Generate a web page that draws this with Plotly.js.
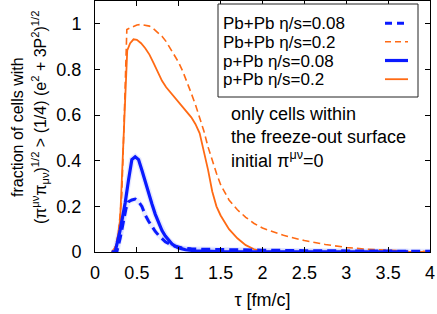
<!DOCTYPE html>
<html>
<head>
<meta charset="utf-8">
<script src="https://cdn.plot.ly/plotly-3.0.1.min.js"></script>
<style>html,body{margin:0;padding:0;background:#fff;}#chart{width:437px;height:314px;}</style>
</head>
<body>
<div id="chart"></div>
<script>
// ---- data ----
const seriesNames = ["Pb+Pb η/s=0.08", "Pb+Pb η/s=0.2", "p+Pb η/s=0.08", "p+Pb η/s=0.2"];

const tauPbPb008 = [0.2, 0.26, 0.3, 0.34, 0.37, 0.4, 0.44, 0.48, 0.52, 0.56, 0.6, 0.64, 0.68, 0.72, 0.76, 0.8, 0.84, 0.9, 0.96, 1.04, 1.15, 1.3, 1.5, 1.75, 2.0, 2.5, 3.0, 3.5, 4.0];
const fracPbPb008 = [0, 0, 0.06, 0.14, 0.19, 0.22, 0.228, 0.232, 0.22, 0.2, 0.162, 0.135, 0.11, 0.09, 0.073, 0.058, 0.045, 0.033, 0.025, 0.018, 0.014, 0.012, 0.01, 0.009, 0.008, 0.006, 0.005, 0.004, 0.003];

const tauPbPb02 = [0.2, 0.24, 0.28, 0.32, 0.35, 0.38, 0.42, 0.46, 0.5, 0.55, 0.6, 0.65, 0.7, 0.75, 0.8, 0.85, 0.9, 0.95, 1.0, 1.05, 1.1, 1.15, 1.2, 1.25, 1.3, 1.35, 1.4, 1.45, 1.5, 1.55, 1.6, 1.7, 1.8, 1.9, 2.0, 2.25, 2.5, 2.75, 3.0, 3.25, 3.5, 3.75, 4.0];
const fracPbPb02 = [0, 0.02, 0.08, 0.25, 0.6, 0.975, 0.982, 0.99, 0.995, 0.997, 0.995, 0.99, 0.978, 0.963, 0.945, 0.922, 0.893, 0.862, 0.83, 0.79, 0.745, 0.695, 0.645, 0.59, 0.53, 0.46, 0.4, 0.345, 0.295, 0.258, 0.228, 0.185, 0.152, 0.125, 0.105, 0.073, 0.05, 0.033, 0.02, 0.012, 0.007, 0.004, 0.002];

const tauPPb008 = [0.2, 0.24, 0.3, 0.36, 0.4, 0.44, 0.48, 0.52, 0.56, 0.6, 0.64, 0.68, 0.72, 0.76, 0.8, 0.84, 0.88, 0.92, 0.96, 1.0, 1.08, 1.2, 1.5, 2.0, 3.0, 3.74];
const fracPPb008 = [0, 0, 0.096, 0.215, 0.315, 0.405, 0.417, 0.405, 0.358, 0.305, 0.258, 0.21, 0.165, 0.13, 0.094, 0.07, 0.05, 0.035, 0.025, 0.018, 0.01, 0.005, 0.002, 0.001, 0.001, 0.001];

const tauPPb02 = [0.2, 0.22, 0.26, 0.3, 0.35, 0.385, 0.42, 0.46, 0.5, 0.55, 0.6, 0.65, 0.7, 0.75, 0.8, 0.85, 0.9, 0.95, 1.0, 1.05, 1.1, 1.15, 1.2, 1.25, 1.3, 1.35, 1.4, 1.45, 1.5, 1.6, 1.7, 1.8, 1.9, 2.0, 2.2, 3.0, 4.0];
const fracPPb02 = [0, 0, 0.038, 0.14, 0.577, 0.883, 0.915, 0.932, 0.93, 0.915, 0.893, 0.865, 0.828, 0.787, 0.75, 0.722, 0.7, 0.678, 0.657, 0.635, 0.612, 0.59, 0.56, 0.52, 0.44, 0.36, 0.265, 0.2, 0.16, 0.1, 0.06, 0.03, 0.012, 0.003, 0.001, 0.0005, 0];

const xTicks = [0, 0.5, 1, 1.5, 2, 2.5, 3, 3.5, 4];
const xTickText = ["0", "0.5", "1", "1.5", "2", "2.5", "3", "3.5", "4"];
const yTicks = [0, 0.2, 0.4, 0.6, 0.8, 1];
const yTickText = ["0", "0.2", "0.4", "0.6", "0.8", "1"];

// ---- styles ----
const BLUE = "#0a1aff";
const ORANGE = "#ff6a14";
const FONT = "Liberation Sans, Arial, Helvetica, sans-serif";

const traces = [
  {x: tauPbPb008, y: fracPbPb008, mode: "lines", line: {color: "rgba(110,130,255,0.15)", width: 5}, hoverinfo: "skip", showlegend: false},
  {x: tauPPb008, y: fracPPb008, mode: "lines", line: {color: "rgba(110,130,255,0.18)", width: 6}, hoverinfo: "skip", showlegend: false},
  {x: tauPbPb02, y: fracPbPb02, name: seriesNames[1], mode: "lines", line: {color: ORANGE, width: 1.6, dash: "7px,4px"}},
  {x: tauPPb02, y: fracPPb02, name: seriesNames[3], mode: "lines", line: {color: ORANGE, width: 1.8}},
  {x: tauPbPb008, y: fracPbPb008, name: seriesNames[0], mode: "lines", line: {color: BLUE, width: 3, dash: "9px,5px"}},
  {x: tauPPb008, y: fracPPb008, name: seriesNames[2], mode: "lines", line: {color: BLUE, width: 3.2}}
];

// plot area in pixels: left 95, right 430, top 1, bottom 252
const L = 95, R = 430, T = 1, B = 252;
const px = v => (v - L) / (R - L);
const py = v => (B - v) / (B - T);

// legend (drawn as layout decorations)
const legRows = [23.2, 41.8, 60.5, 79.2];
const legStyles = [
  {color: BLUE, width: 3, dash: "7px,5px"},
  {color: ORANGE, width: 1.6, dash: "6px,4px"},
  {color: BLUE, width: 3.2, dash: "solid"},
  {color: ORANGE, width: 1.8, dash: "solid"}
];
const shapes = [
  {type: "rect", xref: "paper", yref: "paper", x0: px(218), x1: px(418), y0: py(97), y1: py(4),
   line: {color: "#222", width: 1}, fillcolor: "rgba(255,255,255,1)", layer: "above"}
];
const annotations = [];
legRows.forEach((r, i) => {
  shapes.push({type: "line", xref: "paper", yref: "paper", x0: px(385), x1: px(408), y0: py(r), y1: py(r),
    line: legStyles[i], layer: "above"});
  annotations.push({xref: "paper", yref: "paper", x: px(222), y: py(r + 0.5), xanchor: "left", yanchor: "middle",
    text: seriesNames[i], showarrow: false, borderpad: 0, font: {family: FONT, size: 17, color: "#000"}});
});

annotations.push({xref: "paper", yref: "paper", x: px(229), y: py(137), xanchor: "left", yanchor: "middle", align: "left",
  text: "only cells within<br>the freeze-out surface<br>initial π<sup>μν</sup>=0", showarrow: false,
  font: {family: FONT, size: 18, color: "#000"}});

// y-axis title (two lines, rotated)
annotations.push({xref: "paper", yref: "paper", x: px(17), y: py(127), xanchor: "center", yanchor: "middle", textangle: -90,
  text: "fraction of cells with", showarrow: false, font: {family: FONT, size: 16, color: "#000"}});
annotations.push({xref: "paper", yref: "paper", x: px(40), y: py(118), xanchor: "center", yanchor: "middle", textangle: -90,
  text: "(π<sup>μν</sup>π<sub>μν</sub>)<sup>1/2</sup> &gt; (1/4) (e<sup>2</sup> + 3P<sup>2</sup>)<sup>1/2</sup>", showarrow: false,
  font: {family: FONT, size: 16, color: "#000"}});

const layout = {
  width: 437, height: 314,
  margin: {l: L, r: 437 - R, t: T, b: 314 - B, pad: 0},
  paper_bgcolor: "#fff", plot_bgcolor: "#fff",
  showlegend: false,
  font: {family: FONT, size: 18, color: "#000"},
  xaxis: {
    range: [0, 4], tickmode: "array", tickvals: xTicks, ticktext: xTickText,
    ticks: "inside", ticklen: 5, tickcolor: "#000", tickwidth: 1,
    showline: true, linecolor: "#000", linewidth: 1, mirror: "allticks",
    showgrid: false, zeroline: false, ticklabelstandoff: 4,
    tickfont: {family: FONT, size: 18},
    title: {text: "τ [fm/c]", font: {family: FONT, size: 18}, standoff: 11}
  },
  yaxis: {
    range: [0, 1.1], tickmode: "array", tickvals: yTicks, ticktext: yTickText,
    ticks: "inside", ticklen: 5, tickcolor: "#000", tickwidth: 1,
    showline: true, linecolor: "#000", linewidth: 1, mirror: "allticks",
    showgrid: false, zeroline: false, ticklabelstandoff: 9,
    tickfont: {family: FONT, size: 18}
  },
  shapes: shapes,
  annotations: annotations
};

Plotly.newPlot("chart", traces, layout, {staticPlot: true, displayModeBar: false});
</script>
</body>
</html>
